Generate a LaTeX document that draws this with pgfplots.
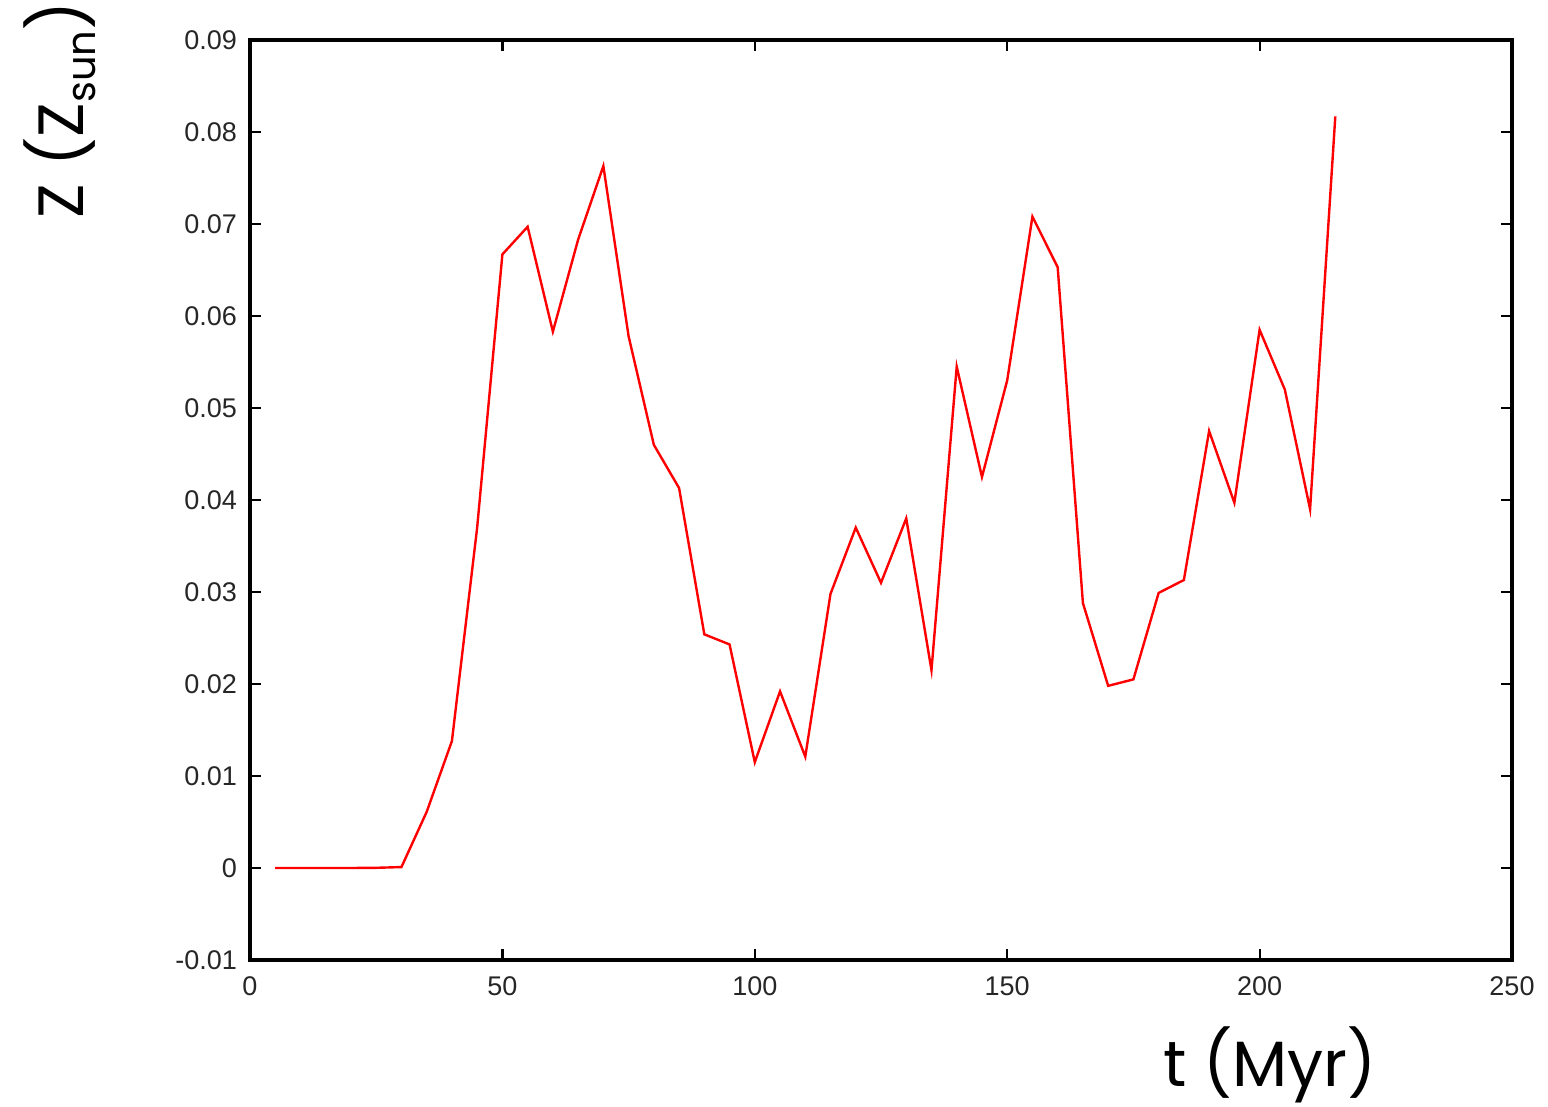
\documentclass[border=0pt]{standalone}
\usepackage{pgfplots}
\pgfplotsset{compat=1.18}
\usepackage{fontspec}
\setmainfont{Liberation Sans}
\newfontfamily\labfont{Poppins}
\pgfplotstableread{
t z
5 0
10 0
15 0
20 0
25 0.00002
30 0.0001
35 0.0061
40 0.0138
45 0.037
50 0.0667
55 0.0697
60 0.0583
65 0.0683
70 0.0763
75 0.0578
80 0.046
85 0.0413
90 0.0254
95 0.0243
100 0.0115
105 0.0192
110 0.0121
115 0.0298
120 0.037
125 0.031
130 0.038
135 0.0215
140 0.0545
145 0.0425
150 0.053
155 0.0708
160 0.0653
165 0.0288
170 0.0198
175 0.0205
180 0.0299
185 0.0313
190 0.0475
195 0.0397
200 0.0585
205 0.052
210 0.039
215 0.0817
}\datatable
\begin{document}
\begin{tikzpicture}
\path[use as bounding box] (-125pt,-73.5pt) rectangle (649pt,480pt);
\begin{axis}[
  at={(0,0)}, anchor=south west,
  scale only axis, width=631pt, height=460pt,
  xmin=0, xmax=250, ymin=-0.01, ymax=0.09,
  scaled y ticks=false, scaled x ticks=false,
  xtick={0,50,100,150,200,250},
  ytick={-0.01,0,0.01,0.02,0.03,0.04,0.05,0.06,0.07,0.08,0.09},
  yticklabels={-0.01,0,0.01,0.02,0.03,0.04,0.05,0.06,0.07,0.08,0.09},
  xticklabels={0,50,100,150,200,250},
  tick align=inside,
  major tick length=5.5pt,
  tick style={black, line width=1.1pt},
  axis line style={line width=1.8pt},
  ticklabel style={font=\fontsize{13.5}{15}\selectfont, color=black!85},
  yticklabel style={xshift=-3pt},
  xticklabel style={yshift=-5pt},
  minor tick num=0,
]
\addplot[red, line width=1.2pt, mark=none] table[x=t, y=z] {\datatable};
\end{axis}
\node[font=\labfont\fontsize{32}{36}\selectfont] at (510pt,-52.5pt) {t (Myr)};
\node[rotate=90, font=\labfont\fontsize{32}{36}\selectfont] at (-95pt,425pt) {Z (Z\raisebox{-0.35ex}{\fontsize{20}{22}\selectfont sun})};
\end{tikzpicture}
\end{document}
